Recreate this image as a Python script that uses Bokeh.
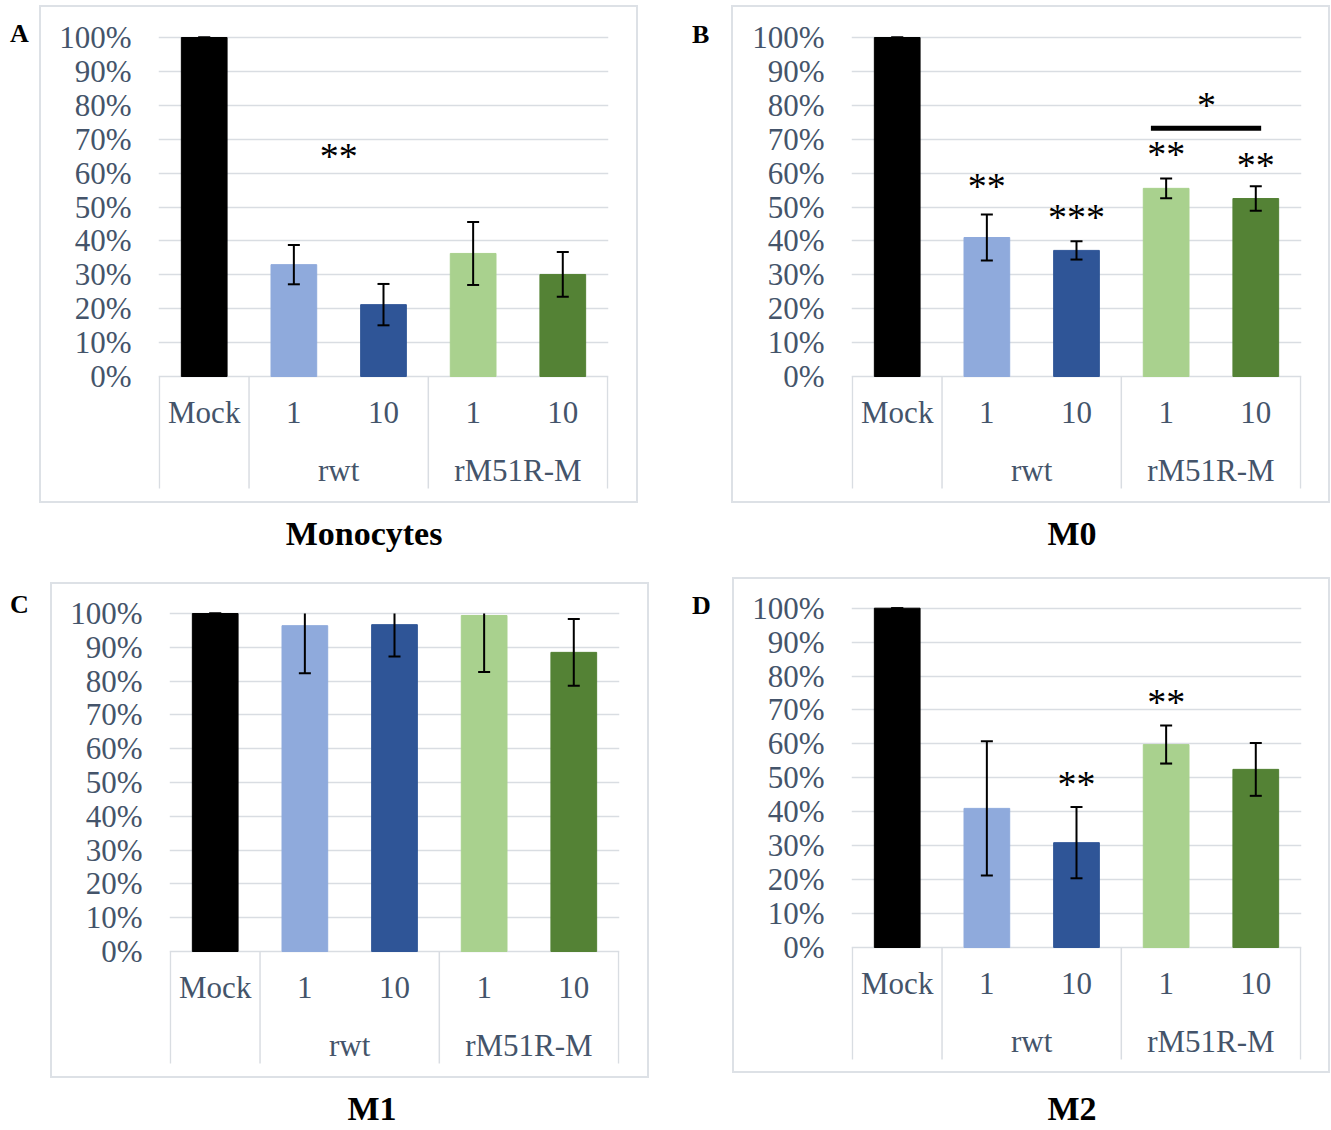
from bokeh.plotting import figure
from bokeh.models import (Range1d, FixedTicker, NumeralTickFormatter, ColumnDataSource, Div)
from bokeh.layouts import row, column
from bokeh.embed import file_html
from bokeh.resources import INLINE
from bokeh.core.properties import value

# ---------------- data ----------------
categories = ["Mock", "1", "10", "1", "10"]
groups = ["rwt", "rM51R-M"]
bar_colors = ["#000000", "#8FAADC", "#2F5597", "#A9D18E", "#548235"]
y_ticks = [0.0, 0.1, 0.2, 0.3, 0.4, 0.5, 0.6, 0.7, 0.8, 0.9, 1.0]

monocytes_vals = [1.000, 0.330, 0.212, 0.363, 0.301]
monocytes_err = [0.000, 0.058, 0.061, 0.093, 0.066]
m0_vals = [1.000, 0.410, 0.372, 0.555, 0.525]
m0_err = [0.000, 0.068, 0.027, 0.029, 0.036]
m1_vals = [1.000, 0.964, 0.967, 0.994, 0.885]
m1_err = [0.000, 0.141, 0.094, 0.167, 0.099]
m2_vals = [1.000, 0.410, 0.309, 0.598, 0.525]
m2_err = [0.000, 0.198, 0.105, 0.056, 0.078]

monocytes_sig_x = [1.5]
monocytes_sig_y = [0.66]
monocytes_sig = ["**"]
m0_sig_x = [1, 2, 3, 4, 3.45]
m0_sig_y = [0.57, 0.48, 0.664, 0.634, 0.81]
m0_sig = ["**", "***", "**", "**", "*"]
m0_bracket = [2.83, 4.06, 0.732]
m1_sig_x, m1_sig_y, m1_sig = [], [], []
m2_sig_x = [2, 3]
m2_sig_y = [0.492, 0.733]
m2_sig = ["**", "**"]

panel_letters = ["A", "B", "C", "D"]
panel_titles = ["Monocytes", "M0", "M1", "M2"]

TEXT = "#44546A"
GRID = "#D9DDE2"
RING = "0 0 0 2px #DDE1E6"
SERIF = "Liberation Serif"
LABEL_SIZE = "31px"


def make_panel(vals, errs, sig_x, sig_y, sig, canvas_w, canvas_h, frame_left,
               zero_px, ppu, margin, bracket=None):
    y_bottom = -(canvas_h - zero_px) / ppu
    y_top = 1 + (zero_px - ppu) / ppu
    p = figure(width=canvas_w, height=canvas_h,
               min_border_left=frame_left, min_border_right=canvas_w - frame_left - 450,
               min_border_top=0, min_border_bottom=0,
               x_range=Range1d(-0.51, 4.51), y_range=Range1d(y_bottom, y_top),
               x_axis_location=None, output_backend="svg", toolbar_location=None, tools="",
               styles={"box-shadow": RING}, margin=margin)
    p.outline_line_color = None
    p.background_fill_color = "white"
    p.border_fill_color = "white"
    p.xgrid.visible = False
    p.ygrid.ticker = FixedTicker(ticks=y_ticks)
    p.ygrid.grid_line_color = GRID
    p.ygrid.grid_line_width = 1.5
    ax = p.yaxis[0]
    ax.ticker = FixedTicker(ticks=y_ticks)
    ax.formatter = NumeralTickFormatter(format="0%")
    ax.axis_line_color = None
    ax.major_tick_line_color = None
    ax.minor_tick_line_color = None
    ax.major_tick_out = 0
    ax.major_tick_in = 0
    ax.major_label_standoff = 27
    ax.major_label_text_font = SERIF
    ax.major_label_text_font_size = LABEL_SIZE
    ax.major_label_text_color = TEXT

    xs = list(range(len(categories)))
    src = ColumnDataSource(dict(x=xs, top=vals, color=bar_colors))
    p.vbar(x="x", top="top", width=0.51, color="color", source=src)

    upper = [min(v + e, 1.0) for v, e in zip(vals, errs)]
    lower = [v - e for v, e in zip(vals, errs)]
    p.segment(x0=xs, y0=lower, x1=xs, y1=upper, line_color="black", line_width=2)
    cap_x = xs + [x for x, v, e in zip(xs, vals, errs) if v + e <= 1.0 + 1e-9]
    cap_y = lower + [v + e for v, e in zip(vals, errs) if v + e <= 1.0 + 1e-9]
    p.scatter(x=cap_x, y=cap_y, marker="dash", size=12, line_color="black", line_width=2)

    # category axis labels (two levels) and separators
    p.text(x=xs, y=[0] * len(xs), text=categories, y_offset=36, text_align="center",
           text_baseline="middle", text_font=value(SERIF), text_font_size=LABEL_SIZE,
           text_color=TEXT)
    p.text(x=[1.5, 3.5], y=[0, 0], text=groups, y_offset=94, text_align="center",
           text_baseline="middle", text_font=value(SERIF), text_font_size=LABEL_SIZE,
           text_color=TEXT)
    sep_x = [-0.5, 0.5, 2.5, 4.5]
    sep_len = 112 / ppu
    p.segment(x0=sep_x, y0=[0] * 4, x1=sep_x, y1=[-sep_len] * 4, line_color=GRID,
              line_width=1.5)

    if sig:
        p.text(x=sig_x, y=sig_y, text=sig, y_offset=3, text_align="center",
               text_baseline="middle", text_font=value(SERIF), text_font_size="38px",
               text_color="black")
    if bracket:
        p.segment(x0=[bracket[0]], y0=[bracket[2]], x1=[bracket[1]], y1=[bracket[2]],
                  line_color="black", line_width=5)
    return p


def letter_div(text, width, margin):
    return Div(text=text, width=width, height=30, margin=margin,
               styles={"font-family": SERIF, "font-size": "26px", "font-weight": "bold",
                       "line-height": "26px", "color": "black"})


def title_div(text, width, height, margin):
    return Div(text=text, width=width, height=height, margin=margin,
               styles={"font-family": SERIF, "font-size": "34px", "font-weight": "bold",
                       "line-height": "34px", "color": "black", "text-align": "center"})


pA = make_panel(monocytes_vals, monocytes_err, monocytes_sig_x, monocytes_sig_y, monocytes_sig,
                595, 494, 117, 369, 339, (7, 0, 0, 0))
pB = make_panel(m0_vals, m0_err, m0_sig_x, m0_sig_y, m0_sig,
                595, 494, 118, 369, 339, (7, 0, 0, 0), bracket=m0_bracket)
pC = make_panel(m1_vals, m1_err, m1_sig_x, m1_sig_y, m1_sig,
                595, 492, 117, 367, 338, (7, 0, 0, 0))
pD = make_panel(m2_vals, m2_err, m2_sig_x, m2_sig_y, m2_sig,
                594, 492, 117, 368, 339.3, (2, 0, 0, 0))

row1 = row(letter_div(panel_letters[0], 31, (21, 0, 0, 10)),
           pA,
           letter_div(panel_letters[1], 41, (22, 0, 0, 56)),
           pB)
titles1 = row(title_div(panel_titles[0], 728, 60, (16, 0, 0, 0)),
              title_div(panel_titles[1], 516, 60, (16, 0, 0, 86)))
row2 = row(letter_div(panel_letters[2], 42, (15, 0, 0, 10)),
           pC,
           letter_div(panel_letters[3], 42, (16, 0, 0, 45)),
           pD)
titles2 = row(title_div(panel_titles[2], 744, 34, (16, 0, 0, 0)),
              title_div(panel_titles[3], 516, 34, (16, 0, 0, 70)))

layout = column(row1, titles1, row2, titles2)
open("out.html", "w").write(file_html(layout, INLINE))
